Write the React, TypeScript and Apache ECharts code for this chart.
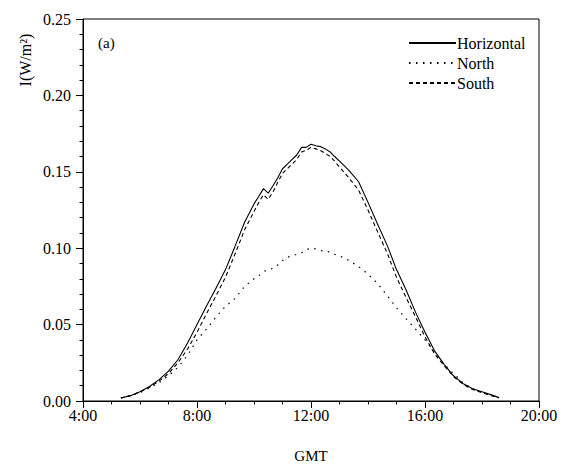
import React, { useEffect, useRef } from "react";
import * as echarts from "echarts";

// Time of day (GMT, decimal hours)
const times = [
  5.33, 5.67, 6.0, 6.33, 6.67, 7.0, 7.33, 7.67, 8.0, 8.33, 8.67, 9.0, 9.33, 9.67,
  10.0, 10.17, 10.33, 10.5, 10.67, 10.83, 11.0, 11.17, 11.33, 11.5, 11.67, 11.83,
  12.0, 12.17, 12.33, 12.5, 12.67, 12.83, 13.0, 13.33, 13.67, 14.0, 14.33, 14.67,
  15.0, 15.33, 15.67, 16.0, 16.33, 16.67, 17.0, 17.33, 17.67, 18.0, 18.33, 18.6,
];

const horizontal = [
  0.002, 0.0035, 0.006, 0.0095, 0.014, 0.0195, 0.027, 0.038, 0.05, 0.062, 0.074, 0.086, 0.101, 0.117,
  0.129, 0.134, 0.139, 0.136, 0.141, 0.146, 0.152, 0.155, 0.158, 0.161, 0.166, 0.166,
  0.168, 0.167, 0.1665, 0.165, 0.163, 0.16, 0.157, 0.151, 0.1435, 0.13, 0.116, 0.102,
  0.086, 0.073, 0.058, 0.045, 0.033, 0.024, 0.0165, 0.0115, 0.008, 0.006, 0.004, 0.0022,
];

const north = [
  0.002, 0.0035, 0.0055, 0.0085, 0.012, 0.0165, 0.022, 0.03, 0.04, 0.047, 0.055, 0.062, 0.067, 0.075,
  0.08, 0.082, 0.0846, 0.086, 0.0868, 0.089, 0.092, 0.094, 0.095, 0.096, 0.097, 0.099,
  0.1, 0.0995, 0.0985, 0.098, 0.0975, 0.096, 0.095, 0.092, 0.088, 0.083, 0.077, 0.069,
  0.061, 0.054, 0.047, 0.04, 0.032, 0.024, 0.018, 0.012, 0.008, 0.0055, 0.0035, 0.002,
];

const south = [
  0.002, 0.0035, 0.006, 0.009, 0.013, 0.018, 0.025, 0.034, 0.045, 0.057, 0.069, 0.081, 0.096, 0.112,
  0.124, 0.13, 0.135, 0.132, 0.137, 0.143, 0.149, 0.152, 0.155, 0.158, 0.163, 0.164,
  0.166, 0.165, 0.164, 0.162, 0.16, 0.157, 0.153, 0.146, 0.138, 0.125, 0.111, 0.097,
  0.081, 0.068, 0.055, 0.042, 0.031, 0.023, 0.016, 0.011, 0.0075, 0.0055, 0.0035, 0.002,
];

const seriesNames = ["Horizontal", "North", "South"];

const FONT = "'Liberation Serif', 'Times New Roman', serif";
const INK = "#000";
const FS = 16;

export default function App() {
  const ref = useRef<HTMLDivElement>(null);
  useEffect(() => {
    if (!ref.current) return;
    const chart = echarts.init(ref.current, undefined, { renderer: "svg" });
    const pair = (ys: number[]) => times.map((t, i) => [t, ys[i]]);
    chart.setOption({
      animation: false,
      backgroundColor: "#fff",
      textStyle: { fontFamily: FONT, color: INK },
      grid: {
        left: 83,
        right: 27,
        top: 19,
        bottom: 63,
        outerBoundsMode: "none",
        containLabel: false,
        show: true,
        borderColor: INK,
        borderWidth: 1,
        backgroundColor: "transparent",
      },
      legend: {
        orient: "vertical",
        left: 408,
        top: 35,
        padding: 0,
        itemWidth: 47,
        itemHeight: 10,
        itemGap: 4,
        data: seriesNames,
        itemStyle: { opacity: 0 },
        textStyle: { fontFamily: FONT, fontSize: FS, color: INK, padding: [0, 0, 0, -4] },
      },
      graphic: [
        {
          type: "text",
          left: 98,
          top: 35,
          style: { text: "(a)", font: `15px ${FONT}`, fill: INK },
        },
        {
          type: "text",
          x: 25,
          y: 60,
          rotation: Math.PI / 2,
          style: {
            text: "I(W/m²)",
            font: `16px ${FONT}`,
            fill: INK,
            align: "center",
            verticalAlign: "middle",
          },
        },
      ],
      xAxis: {
        type: "value",
        min: 4,
        max: 20,
        interval: 4,
        name: "GMT",
        nameLocation: "middle",
        nameGap: 47,
        nameTextStyle: { fontFamily: FONT, fontSize: 15, color: INK },
        axisLine: { show: true, lineStyle: { color: INK, width: 1 } },
        axisTick: { show: true, inside: false, length: 7, lineStyle: { color: INK } },
        minorTick: { show: true, splitNumber: 4, length: 3.5, lineStyle: { color: INK } },
        splitLine: { show: false },
        axisLabel: {
          fontFamily: FONT,
          fontSize: FS,
          color: INK,
          margin: 6,
          formatter: (v: number) => `${v}:00`,
        },
      },
      yAxis: {
        type: "value",
        min: 0,
        max: 0.25,
        interval: 0.05,
        axisLine: { show: true, lineStyle: { color: INK, width: 1 } },
        axisTick: { show: true, inside: false, length: 7, lineStyle: { color: INK } },
        minorTick: { show: true, splitNumber: 5, length: 3.5, lineStyle: { color: INK } },
        splitLine: { show: false },
        axisLabel: {
          fontFamily: FONT,
          fontSize: FS,
          color: INK,
          margin: 12,
          formatter: (v: number) => v.toFixed(2),
        },
      },
      series: [
        {
          name: "Horizontal",
          type: "line",
          data: pair(horizontal),
          symbol: "none",
          lineStyle: { color: INK, width: 1.1, type: "solid" },
          itemStyle: { color: INK },
        },
        {
          name: "North",
          type: "line",
          data: pair(north),
          symbol: "none",
          lineStyle: { color: INK, width: 1.2, type: [1.5, 5.5] },
          itemStyle: { color: INK },
        },
        {
          name: "South",
          type: "line",
          data: pair(south),
          symbol: "none",
          lineStyle: { color: INK, width: 1.1, type: [4, 3] },
          itemStyle: { color: INK },
        },
      ],
    });
    return () => chart.dispose();
  }, []);
  return (
    <div
      ref={ref}
      style={{ position: "fixed", left: 0, top: 0, width: 566, height: 464, background: "#fff" }}
    />
  );
}
